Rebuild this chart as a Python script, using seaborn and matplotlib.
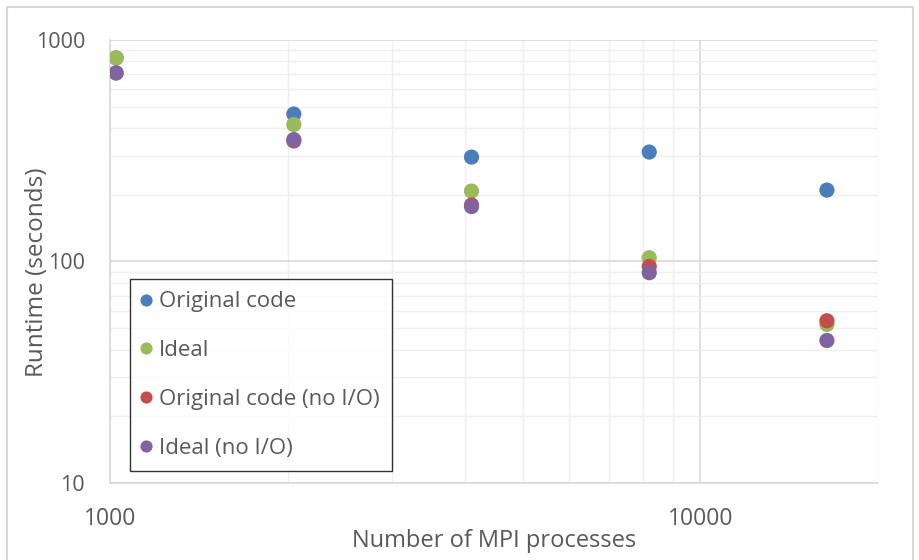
import numpy as np
import pandas as pd
import seaborn as sns
import matplotlib.pyplot as plt
from matplotlib.ticker import LogLocator, FixedLocator, NullFormatter
from matplotlib.patches import Rectangle

processes = [1024, 2048, 4096, 8192, 16384]
original = [830, 463, 296, 312, 210]
ideal = [830, 415, 208, 104, 52]
original_noio = [710, 350, 180, 95, 54]
ideal_noio = [710, 355, 177, 89, 44]

series = ['Original code', 'Ideal', 'Original code (no I/O)', 'Ideal (no I/O)']
colors = ['#4A7EBB', '#9BBB59', '#C0504D', '#8064A2']

frames = []
for name, vals in zip(series, [original, ideal, original_noio, ideal_noio]):
    frames.append(pd.DataFrame({'procs': processes, 'runtime': vals, 'series': name}))
df = pd.concat(frames, ignore_index=True)

sns.set_theme(style='white')
plt.rcParams['font.family'] = ['Open Sans', 'DejaVu Sans']
text_col = '#595959'
grid_col = '#D9D9D9'
minor_col = '#EFEFEF'

fig = plt.figure(figsize=(9.2, 5.6), dpi=100)
ax = fig.add_axes([0.1196, 0.1375, 0.8348, 0.7911])

sns.scatterplot(data=df, x='procs', y='runtime', hue='series', hue_order=series,
                palette=colors, s=120, edgecolor='none', ax=ax, zorder=3)

ax.set_xscale('log')
ax.set_yscale('log')
ax.set_xlim(1000, 20000)
ax.set_ylim(10, 1000)

ax.xaxis.set_major_locator(FixedLocator([1000, 10000]))
ax.yaxis.set_major_locator(FixedLocator([10, 100, 1000]))
ax.xaxis.set_minor_locator(LogLocator(base=10, subs=np.arange(2, 10)))
ax.yaxis.set_minor_locator(LogLocator(base=10, subs=np.arange(2, 10)))
ax.xaxis.set_minor_formatter(NullFormatter())
ax.yaxis.set_minor_formatter(NullFormatter())
ax.set_xticklabels(['1000', '10000'])
ax.set_yticklabels(['10', '100', '1000'])

ax.grid(True, which='major', color=grid_col, linewidth=1.2, zorder=0)
ax.grid(True, which='minor', color=minor_col, linewidth=1.0, zorder=0)
ax.set_axisbelow(True)

for side in ['top', 'right']:
    ax.spines[side].set_visible(False)
for side in ['left', 'bottom']:
    ax.spines[side].set_color(grid_col)
    ax.spines[side].set_linewidth(1.2)

ax.tick_params(axis='both', which='both', length=0, colors=text_col)
ax.tick_params(axis='x', labelsize=16.5, pad=17)
ax.tick_params(axis='y', labelsize=15.5, pad=18)

ax.set_xlabel('Number of MPI processes', fontsize=17, color=text_col)
ax.xaxis.label.set_va('center')
ax.xaxis.set_label_coords(0.5, -0.131)
ax.set_ylabel('Runtime (seconds)', fontsize=17.5, color=text_col)
ax.yaxis.label.set_va('center')
ax.yaxis.set_label_coords(-0.095, 0.476)

leg = ax.legend(loc='lower left', bbox_to_anchor=(0.026, 0.027), frameon=True,
                fancybox=False, fontsize=16, labelspacing=1.25, handletextpad=0.45,
                borderpad=0.55, borderaxespad=0, markerscale=0.8, handlelength=0.3)
leg.get_frame().set_edgecolor('black')
leg.get_frame().set_linewidth(1.0)
for t in leg.get_texts():
    t.set_color(text_col)

fig.patches.append(Rectangle((7 / 920, -0.01), 906 / 920, 1 - 7 / 560 + 0.01,
                             transform=fig.transFigure, fill=False,
                             edgecolor='#D9D9D9', linewidth=1.5))

fig.savefig('out.png', dpi=100)
